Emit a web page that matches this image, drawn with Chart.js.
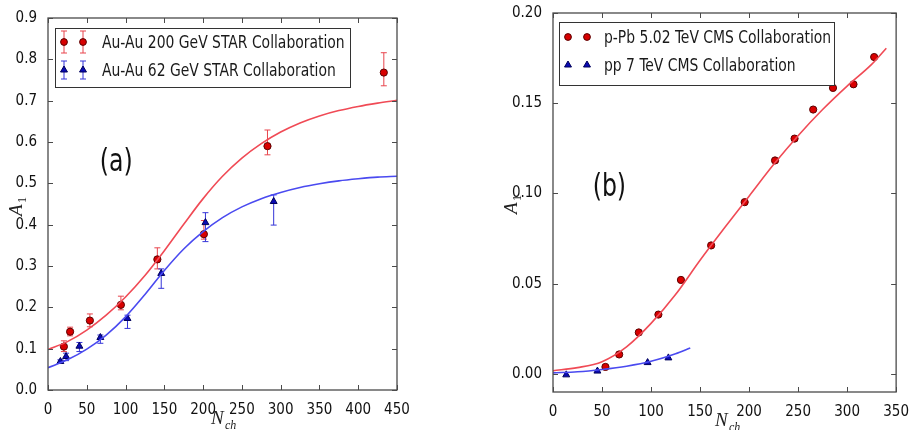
<!DOCTYPE html>
<html>
<head>
<meta charset="utf-8">
<script src="https://cdn.jsdelivr.net/npm/chart.js@4/dist/chart.umd.min.js"></script>
<style>
  body { margin: 0; background: #fff; }
  #wrap { position: relative; width: 912px; height: 430px; }
  canvas { position: absolute; top: 0; }
</style>
</head>
<body>
<div id="wrap">
  <canvas id="chartA" width="456" height="430" style="left:0"></canvas>
  <canvas id="chartB" width="456" height="430" style="left:456px"></canvas>
</div>
<script>
// ---- panel (a): Au-Au, STAR ----
const nchAu200 = [20.5, 28.5, 54, 94, 141, 201, 283, 433];
const a1Au200 = [0.105, 0.141, 0.168, 0.206, 0.316, 0.377, 0.590, 0.768];
const a1Au200ErrLo = [0.012, 0.010, 0.015, 0.012, 0.023, 0.012, 0.021, 0.032];
const a1Au200ErrHi = [0.014, 0.011, 0.016, 0.021, 0.028, 0.033, 0.039, 0.048];

const nchAu62 = [16, 23.3, 40.5, 67.5, 102.5, 146, 203, 291];
const a1Au62 = [0.069, 0.081, 0.106, 0.127, 0.173, 0.282, 0.405, 0.456];
const a1Au62ErrLo = [0.004, 0.010, 0.013, 0.014, 0.024, 0.036, 0.046, 0.057];
const a1Au62ErrHi = [0.004, 0.008, 0.009, 0.006, 0.008, 0.011, 0.024, 0.016];

// fitted curves
const fitNchA = [0, 25, 50, 75, 100, 125, 150, 175, 200, 225, 250, 275, 300, 325, 350, 375, 400, 425, 450];
const fitAu200 = [0.098, 0.117, 0.145, 0.181, 0.225, 0.277, 0.337, 0.401, 0.463, 0.517, 0.561, 0.596, 0.624, 0.646, 0.663, 0.676, 0.686, 0.694, 0.701];
const fitAu62 = [0.054, 0.073, 0.099, 0.133, 0.177, 0.231, 0.289, 0.341, 0.383, 0.417, 0.443, 0.463, 0.478, 0.490, 0.499, 0.506, 0.511, 0.515, 0.517];

const xTicksA = [0, 50, 100, 150, 200, 250, 300, 350, 400, 450];
const yTicksA = [0.0, 0.1, 0.2, 0.3, 0.4, 0.5, 0.6, 0.7, 0.8, 0.9];

// ---- panel (b): p-Pb and pp, CMS ----
const nchPPb = [53.5, 67.5, 87.5, 107.5, 130.5, 161.3, 195.5, 226.5, 246.4, 265.4, 285.6, 306.5, 327.6];
const a1PPb = [0.0039, 0.0108, 0.0230, 0.0329, 0.0521, 0.0712, 0.0952, 0.1183, 0.1304, 0.1465, 0.1585, 0.1605, 0.1756];
const nchPP = [13.5, 45.3, 96.5, 117.7];
const a1PP = [-0.0005, 0.0016, 0.0063, 0.0089];

const fitNchPPb = [0, 25, 50, 75, 100, 125, 150, 175, 200, 225, 250, 275, 300, 325, 340];
const fitPPb = [0.0018, 0.0035, 0.0068, 0.0150, 0.0280, 0.0440, 0.0630, 0.0810, 0.0985, 0.1160, 0.1320, 0.1465, 0.1595, 0.1715, 0.1805];
const fitNchPP = [0, 25, 50, 75, 100, 125, 140];
const fitPP = [0.0006, 0.0012, 0.0025, 0.0043, 0.0070, 0.0112, 0.0144];

const xTicksB = [0, 50, 100, 150, 200, 250, 300, 350];
const yTicksB = [0.00, 0.05, 0.10, 0.15, 0.20];

const SANS = "'Liberation Sans Narrow', 'DejaVu Sans Condensed', 'Liberation Sans', sans-serif";
const SERIF = "'Liberation Serif', 'DejaVu Serif', serif";

const RED_LINE = '#f04a55';
const BLUE_LINE = '#4a4af0';
const RED_ERR = '#e8454d';
const BLUE_ERR = '#3535d8';

function toPoints(xs, ys) {
    return xs.map((x, i) => ({ x: x, y: ys[i] }));
}

function curveSet(xs, ys, color) {
    return {
        data: toPoints(xs, ys),
        showLine: true,
        borderColor: color,
        borderWidth: 1.6,
        pointRadius: 0,
        cubicInterpolationMode: 'monotone',
        fill: false
    };
}

function circleSet(xs, ys, lo, hi) {
    return {
        data: toPoints(xs, ys),
        pointStyle: 'circle',
        pointRadius: 3.6,
        backgroundColor: '#d80000',
        borderColor: '#5a0000',
        borderWidth: 1,
        errLo: lo, errHi: hi, errColor: RED_ERR
    };
}

function triangleSet(xs, ys, lo, hi) {
    return {
        data: toPoints(xs, ys),
        pointStyle: 'triangle',
        pointRadius: 4,
        backgroundColor: '#0a0ab4',
        borderColor: '#00005a',
        borderWidth: 1,
        errLo: lo, errHi: hi, errColor: BLUE_ERR
    };
}

// narrow text: the condensed face is still a bit wide, so squeeze it horizontally
function squeezeText(ctx, text, x, y, sx) {
    ctx.save();
    ctx.translate(x, y);
    ctx.scale(sx, 1);
    ctx.fillText(text, 0, 0);
    ctx.restore();
}

// draws a circle / triangle marker as used in the legend
function drawMarker(ctx, kind, x, y, r) {
    ctx.save();
    ctx.lineWidth = 1;
    ctx.beginPath();
    if (kind === 'circle') {
        ctx.fillStyle = '#d80000';
        ctx.strokeStyle = '#5a0000';
        ctx.arc(x, y, r, 0, Math.PI * 2);
    } else {
        ctx.fillStyle = '#0a0ab4';
        ctx.strokeStyle = '#00005a';
        ctx.moveTo(x, y - r);
        ctx.lineTo(x + r * 0.87, y + r * 0.5);
        ctx.lineTo(x - r * 0.87, y + r * 0.5);
        ctx.closePath();
    }
    ctx.fill();
    ctx.stroke();
    ctx.restore();
}

function drawErrBar(ctx, x, yTop, yBot, color) {
    ctx.save();
    ctx.strokeStyle = color;
    ctx.lineWidth = 1;
    ctx.beginPath();
    ctx.moveTo(x, yTop); ctx.lineTo(x, yBot);
    ctx.moveTo(x - 3, yTop); ctx.lineTo(x + 3, yTop);
    ctx.moveTo(x - 3, yBot); ctx.lineTo(x + 3, yBot);
    ctx.stroke();
    ctx.restore();
}

const panelDecor = {
    id: 'panelDecor',
    beforeDatasetsDraw(chart) {
        const ctx = chart.ctx;
        const xs = chart.scales.x, ys = chart.scales.y;
        chart.data.datasets.forEach(ds => {
            if (!ds.errLo) return;
            ds.data.forEach((p, i) => {
                const px = xs.getPixelForValue(p.x);
                drawErrBar(ctx, px, ys.getPixelForValue(p.y + ds.errHi[i]),
                    ys.getPixelForValue(p.y - ds.errLo[i]), ds.errColor);
            });
        });
    },
    afterDraw(chart, args, opts) {
        const ctx = chart.ctx;
        const area = chart.chartArea;
        const xs = chart.scales.x, ys = chart.scales.y;

        // frame with inward ticks on all four sides
        ctx.save();
        ctx.strokeStyle = '#4a4a4a';
        ctx.lineWidth = 1.3;
        ctx.strokeRect(area.left, area.top, area.right - area.left, area.bottom - area.top);
        ctx.lineWidth = 1;
        ctx.beginPath();
        xs.ticks.forEach(t => {
            const px = Math.round(xs.getPixelForValue(t.value)) + 0.5;
            ctx.moveTo(px, area.bottom); ctx.lineTo(px, area.bottom - 5);
            ctx.moveTo(px, area.top); ctx.lineTo(px, area.top + 5);
        });
        ys.ticks.forEach(t => {
            const py = Math.round(ys.getPixelForValue(t.value)) + 0.5;
            ctx.moveTo(area.left, py); ctx.lineTo(area.left + 5, py);
            ctx.moveTo(area.right, py); ctx.lineTo(area.right - 5, py);
        });
        ctx.stroke();
        ctx.restore();

        // legend box
        const lg = opts.legend;
        ctx.save();
        ctx.fillStyle = '#fff';
        ctx.fillRect(lg.x, lg.y, lg.w, lg.h);
        ctx.strokeStyle = '#333';
        ctx.lineWidth = 1;
        ctx.strokeRect(lg.x + 0.5, lg.y + 0.5, lg.w, lg.h);
        lg.rows.forEach(row => {
            row.markerX.forEach(mx => {
                if (row.err) {
                    drawErrBar(ctx, mx, row.y - row.err, row.y + row.err, row.errColor);
                }
                drawMarker(ctx, row.kind, mx, row.y, row.kind === 'circle' ? 3.4 : 4);
            });
            ctx.fillStyle = '#1a1a1a';
            ctx.font = '18px ' + SANS;
            ctx.textBaseline = 'middle';
            ctx.textAlign = 'left';
            squeezeText(ctx, row.text, lg.textX, row.y + 1, 0.86);
        });
        ctx.restore();

        // panel tag
        ctx.save();
        ctx.fillStyle = '#111';
        ctx.font = '32px ' + SANS;
        ctx.textAlign = 'center';
        ctx.textBaseline = 'middle';
        squeezeText(ctx, opts.tag.text, xs.getPixelForValue(opts.tag.x), ys.getPixelForValue(opts.tag.y), 0.82);
        ctx.restore();

        // axis titles: A_1 (rotated) and N_ch
        ctx.save();
        ctx.fillStyle = '#222';
        ctx.textBaseline = 'alphabetic';
        ctx.translate(opts.yTitle.x, opts.yTitle.y);
        ctx.rotate(-Math.PI / 2);
        ctx.font = 'italic 19px ' + SERIF;
        ctx.fillText('A', -8, 6);
        ctx.font = '12px ' + SERIF;
        ctx.fillText('1', 5, 10);
        ctx.restore();

        ctx.save();
        ctx.fillStyle = '#222';
        ctx.textBaseline = 'alphabetic';
        ctx.font = 'italic 19px ' + SERIF;
        ctx.fillText('N', opts.xTitle.x - 9, opts.xTitle.y);
        ctx.font = 'italic 12px ' + SERIF;
        ctx.fillText('ch', opts.xTitle.x + 5, opts.xTitle.y + 5);
        ctx.restore();
    }
};

function makeChart(id, cfg) {
    const tickFont = { family: SANS, size: 15 };
    return new Chart(document.getElementById(id), {
        type: 'scatter',
        data: { datasets: cfg.datasets },
        options: {
            responsive: false,
            animation: false,
            devicePixelRatio: 1,
            layout: { padding: cfg.padding },
            scales: {
                x: {
                    type: 'linear',
                    min: cfg.xMin, max: cfg.xMax,
                    grid: { display: false },
                    border: { display: false },
                    afterBuildTicks: s => { s.ticks = cfg.xTicks.map(v => ({ value: v })); },
                    afterFit: s => { s.height = cfg.xHeight; },
                    ticks: {
                        font: tickFont, color: '#111', padding: 3,
                        maxRotation: 0, autoSkip: false,
                        callback: v => String(v)
                    }
                },
                y: {
                    type: 'linear',
                    min: cfg.yMin, max: cfg.yMax,
                    grid: { display: false },
                    border: { display: false },
                    afterBuildTicks: s => { s.ticks = cfg.yTicks.map(v => ({ value: v })); },
                    afterFit: s => { s.width = cfg.yWidth; },
                    ticks: {
                        font: tickFont, color: '#111', padding: 3, autoSkip: false,
                        callback: v => Number(v).toFixed(cfg.yDigits)
                    }
                }
            },
            plugins: {
                legend: { display: false },
                tooltip: { enabled: false },
                panelDecor: cfg.decor
            }
        },
        plugins: [panelDecor]
    });
}

makeChart('chartA', {
    datasets: [
        curveSet(fitNchA, fitAu200, RED_LINE),
        curveSet(fitNchA, fitAu62, BLUE_LINE),
        circleSet(nchAu200, a1Au200, a1Au200ErrLo, a1Au200ErrHi),
        triangleSet(nchAu62, a1Au62, a1Au62ErrLo, a1Au62ErrHi)
    ],
    padding: { left: 0, top: 18, right: 59, bottom: 0 },
    xMin: 0, xMax: 450, yMin: 0, yMax: 0.9,
    xTicks: xTicksA, yTicks: yTicksA, yDigits: 1,
    xHeight: 40, yWidth: 48,
    decor: {
        legend: {
            x: 55, y: 28, w: 295, h: 59, textX: 102,
            rows: [
                { kind: 'circle', y: 42, markerX: [64, 83], err: 11, errColor: RED_ERR, text: 'Au-Au 200 GeV STAR Collaboration' },
                { kind: 'triangle', y: 70, markerX: [64, 83], err: 9, errColor: BLUE_ERR, text: 'Au-Au 62 GeV STAR Collaboration' }
            ]
        },
        tag: { text: '(a)', x: 88, y: 0.55 },
        yTitle: { x: 16, y: 208 },
        xTitle: { x: 220, y: 424 }
    }
});

makeChart('chartB', {
    datasets: [
        curveSet(fitNchPPb, fitPPb, RED_LINE),
        curveSet(fitNchPP, fitPP, BLUE_LINE),
        circleSet(nchPPb, a1PPb, null, null),
        triangleSet(nchPP, a1PP, null, null)
    ],
    padding: { left: 0, top: 13, right: 10, bottom: 0 },
    xMin: 0, xMax: 350, yMin: -0.01, yMax: 0.20,
    xTicks: xTicksB, yTicks: yTicksB, yDigits: 2,
    xHeight: 38, yWidth: 97,
    decor: {
        legend: {
            x: 103, y: 22, w: 275, h: 63, textX: 148,
            rows: [
                { kind: 'circle', y: 37, markerX: [112, 131], text: 'p-Pb 5.02 TeV CMS Collaboration' },
                { kind: 'triangle', y: 65, markerX: [112, 131], text: 'pp 7 TeV CMS Collaboration' }
            ]
        },
        tag: { text: '(b)', x: 57.5, y: 0.103 },
        yTitle: { x: 55, y: 206 },
        xTitle: { x: 268, y: 426 }
    }
});
</script>
</body>
</html>
